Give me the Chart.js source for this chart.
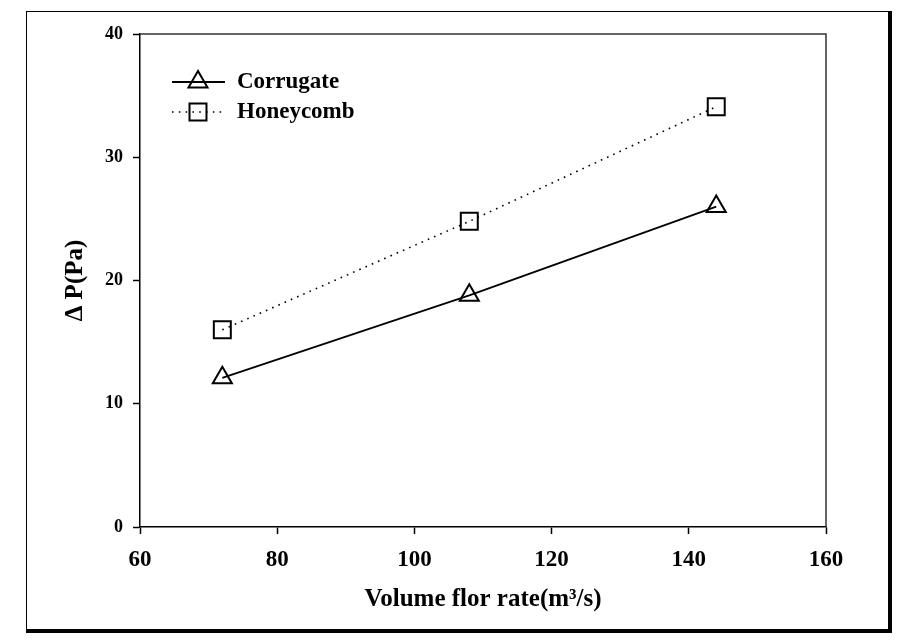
<!DOCTYPE html>
<html>
<head>
<meta charset="utf-8">
<script src="https://cdn.jsdelivr.net/npm/chart.js@4/dist/chart.umd.min.js"></script>
<style>
  body { margin: 0; background: #fff; }
  #wrap { position: relative; width: 910px; height: 641px; }
  #frame {
    position: absolute; left: 26px; top: 11px;
    width: 861px; height: 617px;
    border-left: 1px solid #000; border-top: 1px solid #000;
    border-right: 4px solid #000; border-bottom: 4px solid #000;
    pointer-events: none;
  }
</style>
</head>
<body>
<div id="wrap">
  <canvas id="grafico" width="910" height="641"></canvas>
  <div id="frame"></div>
</div>
<script>
const flowRates = [72, 108, 144];
const corrugate = [12.1, 18.8, 26.0];
const honeycomb = [16.0, 24.8, 34.1];
const xTicks = [60, 80, 100, 120, 140, 160];
const yTicks = [0, 10, 20, 30, 40];

const serif = "'Liberation Serif', 'Times New Roman', serif";

function toPoints(ys) {
    return flowRates.map((x, i) => ({ x: x, y: ys[i] }));
}

// legend drawn inside the plot, line + marker like the original
const insideLegend = {
    id: 'insideLegend',
    afterDraw(chart) {
        const ctx = chart.ctx;
        const ca = chart.chartArea;
        chart.data.datasets.forEach((ds, i) => {
            const y = ca.top + 48 + i * 30;
            ctx.save();
            ctx.strokeStyle = ds.borderColor;
            ctx.lineWidth = ds.borderWidth;
            ctx.setLineDash(ds.borderDash || []);
            ctx.beginPath();
            ctx.moveTo(ca.left + 32, y);
            ctx.lineTo(ca.left + 85, y);
            ctx.stroke();
            ctx.setLineDash([]);
            ctx.lineWidth = ds.pointBorderWidth;
            ctx.fillStyle = 'rgba(0,0,0,0)';
            Chart.helpers.drawPoint(ctx, {
                pointStyle: ds.pointStyle,
                radius: ds.pointRadius,
                rotation: 0,
                borderWidth: ds.pointBorderWidth
            }, ca.left + 58, y);
            ctx.fillStyle = '#000';
            ctx.font = 'bold 23px ' + serif;
            ctx.textBaseline = 'middle';
            ctx.textAlign = 'left';
            ctx.fillText(ds.label, ca.left + 97, y);
            ctx.restore();
        });
    }
};

// top and right edges of the plot box
const plotBox = {
    id: 'plotBox',
    afterDraw(chart) {
        const ctx = chart.ctx;
        const ca = chart.chartArea;
        ctx.save();
        ctx.strokeStyle = '#333';
        ctx.lineWidth = 1.5;
        ctx.beginPath();
        ctx.moveTo(ca.left, ca.top);
        ctx.lineTo(ca.right, ca.top);
        ctx.lineTo(ca.right, ca.bottom);
        ctx.stroke();
        ctx.restore();
    }
};

window.onload = function () {
    const ctx = document.getElementById('grafico').getContext('2d');
    new Chart(ctx, {
        type: 'line',
        data: {
            datasets: [
                {
                    label: 'Corrugate',
                    data: toPoints(corrugate),
                    borderColor: '#000',
                    borderWidth: 1.8,
                    pointStyle: 'triangle',
                    pointRadius: 11,
                    pointBorderWidth: 2,
                    pointBorderColor: '#000',
                    pointBackgroundColor: 'rgba(0,0,0,0)',
                    tension: 0
                },
                {
                    label: 'Honeycomb',
                    data: toPoints(honeycomb),
                    borderColor: '#000',
                    borderWidth: 1.6,
                    borderDash: [1.6, 5.2],
                    pointStyle: 'rect',
                    pointRadius: 12,
                    pointBorderWidth: 2,
                    pointBorderColor: '#000',
                    pointBackgroundColor: 'rgba(0,0,0,0)',
                    tension: 0
                }
            ]
        },
        options: {
            responsive: false,
            animation: false,
            layout: { padding: { left: 40, right: 84, top: 34, bottom: 16 } },
            plugins: {
                legend: { display: false },
                tooltip: { enabled: false }
            },
            scales: {
                x: {
                    type: 'linear',
                    min: 60,
                    max: 160,
                    afterFit: s => { s.height = 98; },
                    afterBuildTicks: s => { s.ticks = xTicks.map(v => ({ value: v })); },
                    grid: { drawOnChartArea: false, drawTicks: true, tickLength: 7, tickColor: '#000', tickWidth: 1.5 },
                    border: { color: '#000', width: 1.5 },
                    ticks: {
                        padding: 12,
                        color: '#000',
                        font: { family: serif, size: 23, weight: 'bold' }
                    },
                    title: {
                        display: true,
                        text: 'Volume flor rate(m³/s)',
                        color: '#000',
                        padding: { top: 0, bottom: 10 },
                        font: { family: serif, size: 25, weight: 'bold' }
                    }
                },
                y: {
                    min: 0,
                    max: 40,
                    afterFit: s => { s.width = 100; },
                    afterBuildTicks: s => { s.ticks = yTicks.map(v => ({ value: v })); },
                    grid: { drawOnChartArea: false, drawTicks: true, tickLength: 7, tickColor: '#000', tickWidth: 1.5 },
                    border: { color: '#000', width: 1.5 },
                    ticks: {
                        padding: 10,
                        color: '#000',
                        font: { family: serif, size: 18, weight: 'bold' }
                    },
                    title: {
                        display: true,
                        text: 'Δ P(Pa)',
                        color: '#000',
                        padding: { top: 21, bottom: 0 },
                        font: { family: serif, size: 25, weight: 'bold' }
                    }
                }
            }
        },
        plugins: [insideLegend, plotBox]
    });
};
</script>
</body>
</html>
